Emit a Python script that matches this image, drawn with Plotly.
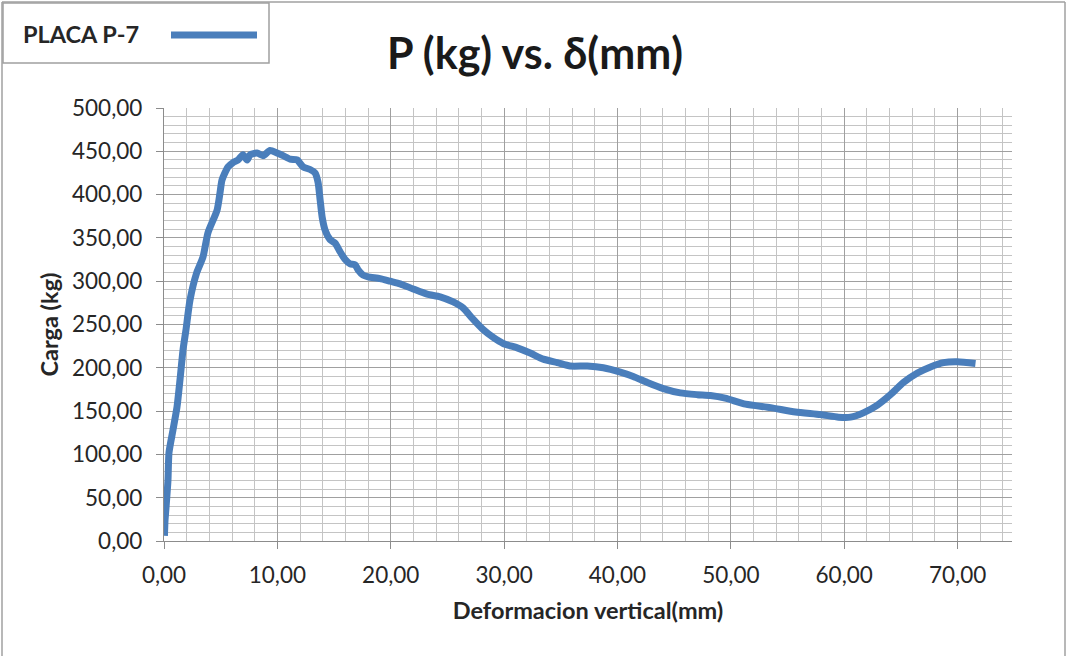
import plotly.graph_objects as go

# deformation (mm) and load (kg)
deformacion = [0.04, 0.09, 0.18, 0.35, 0.44, 0.79, 1.15, 1.41, 1.68, 1.94, 2.29, 2.89, 3.44, 3.88,
               4.68, 4.94, 5.12, 5.65, 6.09, 6.53, 6.97, 7.33, 7.59, 8.21, 8.74, 9.36, 9.97,
               10.5, 11.12, 11.74, 12.27, 12.89, 13.33, 13.59, 13.77, 13.95, 14.21, 14.65,
               15.09, 15.53, 15.98, 16.42, 16.86, 17.12, 17.56, 18.0, 19.06, 19.95, 20.83,
               21.98, 23.21, 24.36, 25.51, 26.39, 27.2, 28.16, 29.04, 29.92, 31.16, 32.3,
               33.45, 34.69, 35.83, 37.33, 38.75, 40.25, 41.39, 42.63, 44.04, 45.54, 47.04,
               48.2, 49.5, 51.3, 53.5, 55.7, 57.9, 59.5, 60.55, 61.69, 62.93, 64.08, 65.22,
               66.46, 67.61, 68.76, 69.99, 71.58]
carga = [6, 24, 39, 70, 102, 128, 155, 186, 221, 244, 278, 310, 328, 356,
         382, 402, 417, 432, 437, 440, 446, 440, 446, 448, 445, 451, 448,
         445, 441, 440, 432, 429, 425, 414, 394, 374, 359, 348,
         344, 334, 325, 320, 319, 313, 307, 305, 303, 300, 297,
         291, 285, 282, 276, 269, 257, 244, 235, 228, 223, 217,
         210, 206, 202, 202, 200, 195, 190, 183, 176, 171, 169,
         168, 165, 158, 154, 149, 146, 143, 143, 148, 157, 169, 183,
         194, 201, 206, 207, 205]

x_ticks = [0, 10, 20, 30, 40, 50, 60, 70]
y_ticks = [0, 50, 100, 150, 200, 250, 300, 350, 400, 450, 500]
x_labels = [f"{v:.2f}".replace(".", ",") for v in x_ticks]
y_labels = [f"{v:.2f}".replace(".", ",") for v in y_ticks]

LINE = "#4a7ebb"
FONT = "Lato"
TXT = "#262626"

L, R, T, B = 164, 1012, 108, 541
W, H = 1067, 656


def px(x):
    return (x - L) / (R - L)


def py(y):
    return (B - y) / (B - T)


fig = go.Figure()
fig.add_trace(go.Scatter(x=deformacion, y=carga, mode="lines", name="PLACA P-7",
                         line=dict(color=LINE, width=7, shape="spline", smoothing=0.6),
                         showlegend=False))

axis_common = dict(showline=True, linecolor="#8c8c8c", linewidth=1.3,
                   ticks="outside", ticklen=7, tickcolor="#8c8c8c", tickwidth=1.3,
                   showgrid=True, gridcolor="#a0a0a0", gridwidth=1.4,
                   zeroline=False, tickfont=dict(family=FONT, size=22.5, color=TXT))

fig.update_xaxes(range=[0, 74.8], tickvals=x_ticks, ticktext=x_labels, ticklabelstandoff=7,
                 minor=dict(dtick=2, tick0=0, showgrid=True, gridcolor="#c4c4c4", gridwidth=1.4),
                 title=dict(text="<b>Deformacion vertical(mm)</b>",
                            font=dict(family=FONT, size=23.5, color=TXT), standoff=15),
                 **axis_common)
fig.update_yaxes(range=[0, 500], tickvals=y_ticks, ticktext=y_labels, ticklabelstandoff=9,
                 minor=dict(dtick=10, tick0=0, showgrid=True, gridcolor="#c4c4c4", gridwidth=1.4),
                 title=dict(text="<b>Carga (kg)</b>",
                            font=dict(family=FONT, size=23.5, color=TXT), standoff=6),
                 **axis_common)

shapes = [
    # outer chart frame
    dict(type="line", xref="paper", yref="paper", x0=px(2), x1=px(2), y0=py(2), y1=py(700),
         line=dict(color="#a0a0a0", width=1.5)),
    dict(type="line", xref="paper", yref="paper", x0=px(2), x1=px(1065), y0=py(2), y1=py(2),
         line=dict(color="#a0a0a0", width=1.5)),
    dict(type="line", xref="paper", yref="paper", x0=px(1065), x1=px(1065), y0=py(2), y1=py(700),
         line=dict(color="#a0a0a0", width=1.5)),
    # legend box
    dict(type="rect", xref="paper", yref="paper", x0=px(3), x1=px(269), y0=py(63), y1=py(3),
         line=dict(color="#a0a0a0", width=1.5), fillcolor="white"),
    dict(type="line", xref="paper", yref="paper", x0=px(171), x1=px(257), y0=py(35), y1=py(35),
         line=dict(color=LINE, width=7)),
]

annotations = [
    dict(text="<b>PLACA P-7</b>", xref="paper", yref="paper", x=px(21), y=py(34),
         xanchor="left", yanchor="middle", showarrow=False,
         font=dict(family=FONT, size=23.5, color=TXT)),
    dict(text="<b>P (kg) vs. δ(mm)</b>", xref="paper", yref="paper", x=px(535), y=py(52),
         xanchor="center", yanchor="middle", showarrow=False,
         font=dict(family=FONT, size=43, color="#1a1a1a")),
]

fig.update_layout(width=W, height=H, margin=dict(l=L, r=W - R, t=T, b=H - B),
                  paper_bgcolor="white", plot_bgcolor="white",
                  shapes=shapes, annotations=annotations, showlegend=False)

fig.write_html("out.html")
